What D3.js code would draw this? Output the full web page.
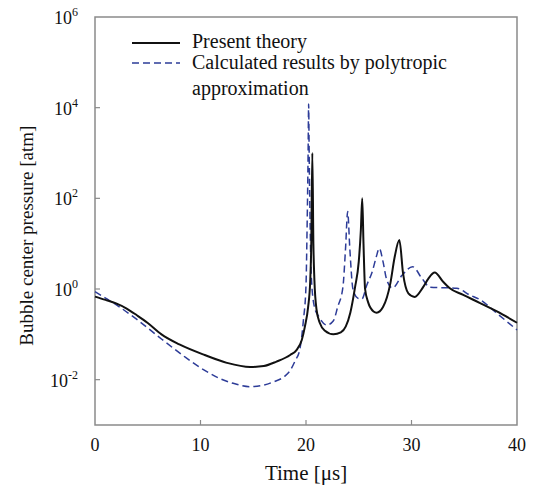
<!DOCTYPE html>
<html>
<head>
<meta charset="utf-8">
<script src="https://cdn.jsdelivr.net/npm/d3@7"></script>
<style>
  body { margin: 0; background: #fff; }
  text { font-family: "Liberation Serif", "DejaVu Serif", serif; fill: #111; }
</style>
</head>
<body>
<div id="chart"></div>
<script>
// time [us] and bubble center pressure [atm]
var theoryTime = [0, 1, 2, 3, 4, 5, 6.3, 8, 10.4, 12.5, 14.7, 16, 17.2, 18.5, 19.1, 19.6, 19.9, 20.2, 20.4, 20.5, 20.6, 20.7, 20.8, 21.0, 21.3, 21.8, 22.6, 23.3, 24.2, 24.65, 25.0, 25.2, 25.33, 25.45, 25.6, 25.9, 26.4, 26.7, 27.3, 28.0, 28.4, 28.85, 29.2, 29.7, 30.3, 31.1, 31.6, 32.2, 33.0, 33.6, 34.9, 36.5, 38.1, 40];
var theoryP = [0.68, 0.575, 0.48, 0.37, 0.26, 0.178, 0.1, 0.06, 0.035, 0.0235, 0.019, 0.02, 0.025, 0.035, 0.045, 0.075, 0.15, 0.4, 1.5, 10, 1000, 10, 1.5, 0.35, 0.18, 0.12, 0.1, 0.11, 0.3, 1.1, 4, 20, 100, 10, 1.0, 0.5, 0.32, 0.3, 0.4, 1.35, 5, 12, 2.2, 0.8, 0.67, 1.1, 1.7, 2.3, 1.44, 1.05, 0.74, 0.49, 0.32, 0.18];

var polyTime = [0, 1, 2.2, 4, 6.3, 8.5, 10.4, 11.8, 13.1, 14.7, 16, 16.9, 18, 18.5, 19.0, 19.4, 19.75, 20.0, 20.1, 20.2, 20.25, 20.3, 20.4, 20.5, 20.8, 21.2, 21.96, 22.6, 23.0, 23.5, 23.75, 23.95, 24.15, 24.45, 24.9, 25.3, 25.75, 26.3, 26.65, 26.95, 27.3, 27.65, 28.2, 29.1, 30.1, 31.0, 31.75, 34.3, 35.5, 36.5, 38.1, 40];
var polyP = [0.87, 0.63, 0.42, 0.21, 0.079, 0.032, 0.016, 0.0107, 0.0083, 0.007, 0.0076, 0.0089, 0.012, 0.016, 0.027, 0.045, 0.2, 1.2, 20, 1000, 12000, 1000, 20, 1.9, 0.4, 0.25, 0.16, 0.2, 0.4, 1.1, 8, 51, 8, 1.0, 0.63, 0.6, 1.2, 2.5, 5, 7.9, 4, 1.6, 1.05, 2.0, 3.1, 1.7, 1.1, 1.04, 0.74, 0.58, 0.29, 0.125];

var xTicks = [0, 10, 20, 30, 40];
var yTickExp = [-2, 0, 2, 4, 6];
var legendNames = ['Present theory', 'Calculated results by polytropic', 'approximation'];

var W = 534, H = 489;
var margin = {top: 17, right: 17, bottom: 64, left: 95},
    width = W - margin.left - margin.right,
    height = H - margin.top - margin.bottom;

var svg = d3.select('#chart').append('svg')
  .attr('width', W)
  .attr('height', H);

var g = svg.append('g')
  .attr('transform', 'translate(' + margin.left + ',' + margin.top + ')');

var x = d3.scaleLinear().domain([0, 40]).range([0, width]),
    y = d3.scaleLog().domain([1e-3, 1e6]).range([height, 0]);

var axisColor = '#8a8a8a';

// frame
g.append('rect')
  .attr('width', width).attr('height', height)
  .attr('fill', 'none').attr('stroke', axisColor).attr('stroke-width', 1.5);

// inward ticks
g.selectAll('.xtick').data(xTicks.slice(1, -1)).enter().append('line')
  .attr('x1', function(d) { return x(d); }).attr('x2', function(d) { return x(d); })
  .attr('y1', height).attr('y2', height - 5)
  .attr('stroke', axisColor).attr('stroke-width', 1.2);

g.selectAll('.ytick').data(yTickExp.slice(0, -1)).enter().append('line')
  .attr('x1', 0).attr('x2', 5)
  .attr('y1', function(d) { return y(Math.pow(10, d)); })
  .attr('y2', function(d) { return y(Math.pow(10, d)); })
  .attr('stroke', axisColor).attr('stroke-width', 1.2);

// tick labels
g.selectAll('.xlab').data(xTicks).enter().append('text')
  .attr('x', function(d) { return x(d); })
  .attr('y', height + 26)
  .attr('text-anchor', 'middle')
  .style('font-size', '18px')
  .text(function(d) { return d; });

var ylab = g.selectAll('.ylab').data(yTickExp).enter().append('text')
  .attr('x', -17)
  .attr('y', function(d) { return y(Math.pow(10, d)) + 7; })
  .attr('text-anchor', 'end')
  .style('font-size', '18px');
ylab.append('tspan').text('10');
ylab.append('tspan')
  .attr('dy', -8)
  .style('font-size', '12px')
  .text(function(d) { return d; });

// axis titles
svg.append('text')
  .attr('x', margin.left + x(20))
  .attr('y', 480)
  .attr('text-anchor', 'middle')
  .style('font-size', '21px')
  .text('Time [\u03bcs]');

svg.append('text')
  .attr('transform', 'translate(33,' + (margin.top + y(1e1) - 8) + ') rotate(-90)')
  .attr('text-anchor', 'middle')
  .style('font-size', '19px')
  .text('Bubble center pressure [atm]');

// curves
var line = d3.line()
  .x(function(d) { return x(d[0]); })
  .y(function(d) { return y(d[1]); })
  .curve(d3.curveMonotoneX);

g.append('path')
  .datum(d3.zip(polyTime, polyP))
  .attr('d', line)
  .attr('fill', 'none')
  .attr('stroke', '#2d3c98')
  .attr('stroke-width', 1.5)
  .attr('stroke-dasharray', '7,4');

g.append('path')
  .datum(d3.zip(theoryTime, theoryP))
  .attr('d', line)
  .attr('fill', 'none')
  .attr('stroke', '#111')
  .attr('stroke-width', 2);

// legend
var lg = svg.append('g');
lg.append('line').attr('x1', 132).attr('x2', 180).attr('y1', 43).attr('y2', 43)
  .attr('stroke', '#111').attr('stroke-width', 2);
lg.append('line').attr('x1', 132).attr('x2', 180).attr('y1', 63).attr('y2', 63)
  .attr('stroke', '#2d3c98').attr('stroke-width', 1.5).attr('stroke-dasharray', '7,4');
lg.selectAll('text').data(legendNames).enter().append('text')
  .attr('x', 192)
  .attr('y', function(d, i) { return [48, 69, 95][i]; })
  .style('font-size', '20px')
  .text(function(d) { return d; });
</script>
</body>
</html>
